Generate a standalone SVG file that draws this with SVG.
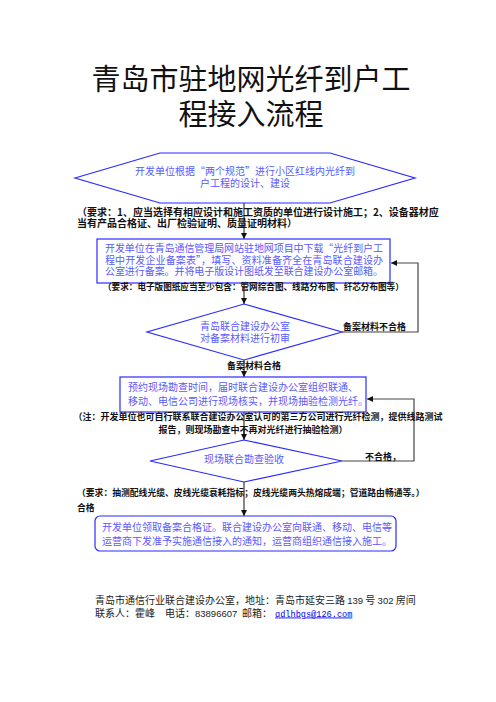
<svg xmlns="http://www.w3.org/2000/svg" width="496" height="702" viewBox="0 0 496 702">
<style>
text{font-family:"Noto Sans CJK SC","Noto Sans",sans-serif}
.title{font-size:29px;fill:#111;text-anchor:middle}
.nt{font-size:10px;fill:#5a5aff}
.note{font-weight:bold;fill:#111}
.shape{fill:#fff;stroke:#2a2aff;stroke-width:1.2}
.conn{fill:none;stroke:#111;stroke-width:1}
.fb{fill:none;stroke:#444;stroke-width:1.2}
.foot{font-size:10px;fill:#222}
.num{font-family:"Liberation Sans",sans-serif;font-size:9.5px}
</style>
<defs>
<marker id="ah" viewBox="0 0 8 8" refX="8" refY="4" markerWidth="6" markerHeight="6" orient="auto" markerUnits="userSpaceOnUse">
<path d="M0,0 L8,4 L0,8 z" fill="#111"/>
</marker>
</defs>
<rect width="496" height="702" fill="#fff"/>
<g id="title">
<text class="title" x="251" y="90">青岛市驻地网光纤到户工</text>
<text class="title" x="251" y="125">程接入流程</text>
</g>
<g id="connectors">
<line class="conn" x1="244" y1="203" x2="244" y2="239" marker-end="url(#ah)"/>
<line class="conn" x1="244" y1="283" x2="244" y2="304" marker-end="url(#ah)"/>
<line class="conn" x1="244" y1="360" x2="244" y2="377" marker-end="url(#ah)"/>
<line class="conn" x1="244" y1="412" x2="244" y2="440" marker-end="url(#ah)"/>
<line class="conn" x1="244" y1="482" x2="244" y2="516" marker-end="url(#ah)"/>
<polyline class="fb" points="342,332 418,332 418,263 391,263" marker-end="url(#ah)"/>
<polyline class="fb" points="342,461 414,461 414,399 367,399" marker-end="url(#ah)"/>
<text class="note" x="343" y="330" font-size="9">备案材料不合格</text>
<text class="note" x="254" y="369" font-size="9" text-anchor="middle">备案材料合格</text>
<text class="note" x="365" y="460" font-size="9">不合格，</text>
</g>
<g id="n1">
<polygon class="shape" points="75,178 160,153 330,153 415,178 330,203 160,203"/>
<text class="nt" x="245" y="175" text-anchor="middle">开发单位根据“两个规范”进行小区红线内光纤到</text>
<text class="nt" x="245" y="187" text-anchor="middle">户工程的设计、建设</text>
</g>
<g id="note1">
<text class="note" x="77" y="215.5" font-size="10">（要求：1、应当选择有相应设计和施工资质的单位进行设计施工；2、设备器材应</text>
<text class="note" x="77" y="226.5" font-size="10">当有产品合格证、出厂检验证明、质量证明材料）</text>
</g>
<g id="n2">
<rect class="shape" x="97" y="239" width="293" height="44"/>
<text class="nt" x="105" y="252" font-size="10.2" textLength="278">开发单位在青岛通信管理局网站驻地网项目中下载“光纤到户工</text>
<text class="nt" x="105" y="263.5" font-size="10.2" textLength="278">程中开发企业备案表”，填写、资料准备齐全在青岛联合建设办</text>
<text class="nt" x="105" y="275" font-size="10.2" textLength="278">公室进行备案。并将电子版设计图纸发至联合建设办公室邮箱。</text>
</g>
<g id="note2">
<text class="note" x="103" y="290" font-size="8.6">（要求：电子版图纸应当至少包含：管网综合图、线路分布图、纤芯分布图等）</text>
</g>
<g id="n3">
<polygon class="shape" points="244,304 342,332 244,360 147,332"/>
<text class="nt" x="245" y="329.5" text-anchor="middle">青岛联合建设办公室</text>
<text class="nt" x="245" y="341.5" text-anchor="middle">对备案材料进行初审</text>
</g>
<g id="n4">
<rect class="shape" x="120" y="377" width="246" height="35"/>
<text class="nt" x="128" y="390.5">预约现场勘查时间，届时联合建设办公室组织联通、</text>
<text class="nt" x="128" y="404.5">移动、电信公司进行现场核实，并现场抽验检测光纤。</text>
</g>
<g id="note3">
<text class="note" x="258" y="420" font-size="9" text-anchor="middle">（注：开发单位也可自行联系联合建设办公室认可的第三方公司进行光纤检测，提供线路测试</text>
<text class="note" x="253" y="433" font-size="9" text-anchor="middle">报告，则现场勘查中不再对光纤进行抽验检测）</text>
</g>
<g id="n5">
<polygon class="shape" points="244,440 342,461 244,482 150,461"/>
<text class="nt" x="244" y="462.5" text-anchor="middle">现场联合勘查验收</text>
</g>
<g id="note4">
<text class="note" x="77" y="496" font-size="8.8">（要求：抽测配线光缆、皮线光缆衰耗指标；皮线光缆两头热熔成端；管道路由畅通等。）</text>
<text class="note" x="77" y="511" font-size="8.8">合格</text>
</g>
<g id="n6">
<rect class="shape" x="95" y="516" width="301" height="35" rx="5"/>
<text class="nt" x="102" y="530.5">开发单位领取备案合格证。联合建设办公室向联通、移动、电信等</text>
<text class="nt" x="102" y="544.5">运营商下发准予实施通信接入的通知，运营商组织通信接入施工。</text>
</g>
<g id="footer">
<text class="foot" x="95" y="603.5">青岛市通信行业联合建设办公室，地址：青岛市延安三路 <tspan class="num">139</tspan> 号 <tspan class="num">302</tspan> 房间</text>
<text class="foot" x="95" y="616.5">联系人：霍峰</text>
<text class="foot" x="165" y="616.5">电话：<tspan class="num">83896607</tspan></text>
<text class="foot" x="242" y="616.5">邮箱：</text>
<text x="275" y="616.5" font-size="8.6" fill="#0000ee" text-decoration="underline" style="font-family:'Liberation Mono',monospace">qdlhbgs@126.com</text>
</g>
</svg>
